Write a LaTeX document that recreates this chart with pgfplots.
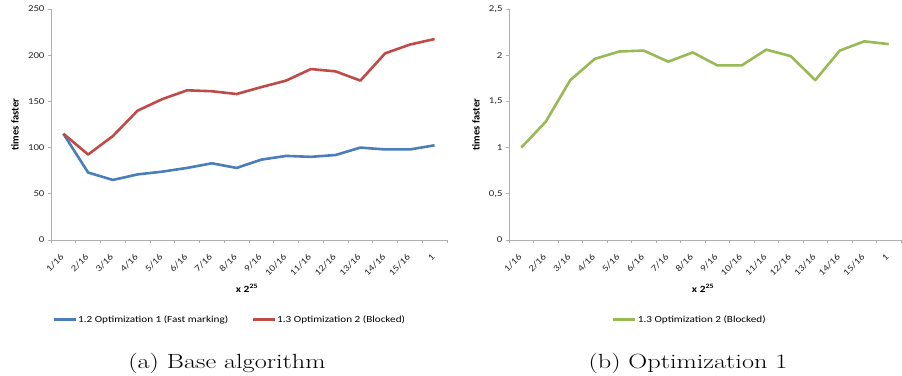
\documentclass[border=0pt]{standalone}
\usepackage{pgfplots}
\pgfplotsset{compat=1.18}
\usepackage{fontspec}
\newfontfamily\chartfont[FakeStretch=1.2]{Carlito}
\newfontfamily\titlefont{Carlito}

\definecolor{serblue}{HTML}{4A7EBB}
\definecolor{serred}{HTML}{BE4B48}
\definecolor{sergreen}{HTML}{98B954}
\definecolor{axisgray}{HTML}{B0B0B0}
\definecolor{labelgray}{HTML}{262626}

% speed-up per input size (x 2^25), categories 1/16 ... 1 at 0 ... 15
\pgfplotstableread{
x fast blocked
0 115 115
1 73 92.5
2 65 112.5
3 71 140
4 74 152.5
5 78 162
6 83 161
7 78 158
8 87 165.5
9 91 172.5
10 90 185
11 92 182.5
12 100 172.5
13 98 202
14 98 211.5
15 102.5 217.5
}\baseline

\pgfplotstableread{
x blocked
0 1.00
1 1.28
2 1.73
3 1.96
4 2.04
5 2.05
6 1.93
7 2.03
8 1.89
9 1.89
10 2.06
11 1.99
12 1.73
13 2.05
14 2.15
15 2.12
}\optone

\pgfplotsset{
  excelstyle/.style={
    scale only axis,
    axis lines=left,
    axis line style={-, draw=axisgray, line width=0.9pt},
    tick style={draw=axisgray, line width=0.9pt},
    tick align=outside,
    major tick length=3pt,
    xmin=-0.5, xmax=15.5,
    xtick={-0.5,0.5,...,15.5},
    xticklabels={},
    extra x ticks={0,1,...,15},
    extra x tick labels={1/16,2/16,3/16,4/16,5/16,6/16,7/16,8/16,9/16,10/16,11/16,12/16,13/16,14/16,15/16,1},
    extra x tick style={major tick length=0pt},
    xticklabel style={xshift=-3.5pt, yshift=-13pt, rotate=45, anchor=north east, inner sep=0pt},
    ymin=0,
    ticklabel style={font=\chartfont\fontsize{9}{10}\selectfont, text=labelgray},
    /pgf/number format/assume math mode=true,
    xlabel={x 2\textsuperscript{25}},
    xlabel style={font=\chartfont\bfseries\fontsize{9.5}{11}\selectfont, at={(axis description cs:0.495,-0.21)}, anchor=center},
    ylabel={times faster},
    ylabel style={font=\titlefont\bfseries\fontsize{10.5}{12}\selectfont, anchor=center},
    legend style={draw=none, fill=none, inner sep=0pt, anchor=west,
      font=\chartfont\fontsize{9.3}{11}\selectfont,
      nodes={inner sep=1pt}},
    legend columns=2,
    legend image code/.code={\draw[#1, line width=3pt] (0pt,0pt) -- (22pt,0pt);},
    /tikz/every even column/.style={column sep=22pt},
    every axis plot/.append style={line width=2.6pt, line join=round, mark=none},
  }
}

\begin{document}
\begin{tikzpicture}[x=1pt, y=1pt]
\useasboundingbox (0,0) rectangle (902,375);

\begin{axis}[excelstyle,
  at={(51pt,135pt)}, anchor=south west,
  width=396pt, height=231pt,
  ymax=250, ytick={0,50,...,250},
  ylabel style={at={(axis description cs:-0.091,0.5)}},
  legend style={at={(axis description cs:0.0025,-0.346)}},
]
\addplot[serblue] table[x=x, y=fast] {\baseline};
\addlegendentry{1.2 Optimization 1 (Fast marking)}
\addplot[serred] table[x=x, y=blocked] {\baseline};
\addlegendentry{1.3 Optimization 2 (Blocked)}
\end{axis}

\begin{axis}[excelstyle,
  at={(509pt,135pt)}, anchor=south west,
  width=392pt, height=231pt,
  ymax=2.5, ytick={0,0.5,...,2.5},
  yticklabels={0,{0,5},1,{1,5},2,{2,5}},
  ylabel style={at={(axis description cs:-0.084,0.5)}},
  legend style={at={(axis description cs:0.262,-0.346)}},
]
\addplot[sergreen] table[x=x, y=blocked] {\optone};
\addlegendentry{1.3 Optimization 2 (Blocked)}
\end{axis}

\node[font=\fontsize{20.5}{24}\selectfont, anchor=base, xscale=1.28] at (227,7) {(a) Base algorithm};
\node[font=\fontsize{20.5}{24}\selectfont, anchor=base, xscale=1.28] at (688,7) {(b) Optimization 1};
\end{tikzpicture}
\end{document}
